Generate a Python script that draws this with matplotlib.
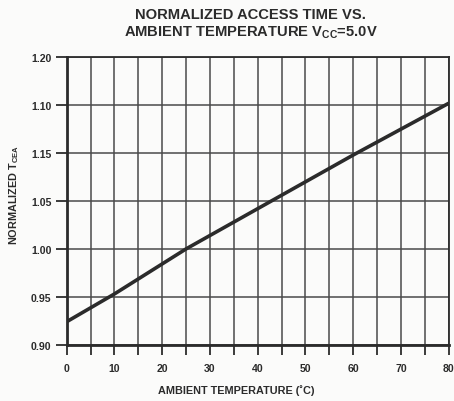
import numpy as np
import matplotlib
matplotlib.use('Agg')
import matplotlib.pyplot as plt

plt.rcParams['font.family'] = ['Liberation Sans', 'DejaVu Sans']
plt.rcParams['font.weight'] = 'bold'
plt.rcParams['mathtext.fontset'] = 'custom'
plt.rcParams['mathtext.bf'] = 'Liberation Sans:bold'
plt.rcParams['mathtext.rm'] = 'Liberation Sans:bold'
plt.rcParams['mathtext.default'] = 'bf'

# curve (y in grid position units, 0.90 .. 1.20)
temp = [0, 10, 25, 40, 45, 60, 80]
tcea = [0.924, 0.953, 1.000, 1.042, 1.056, 1.098, 1.152]

# tick labels exactly as printed on the original (bottom to top)
y_ticks = [0.90, 0.95, 1.00, 1.05, 1.10, 1.15, 1.20]
y_labels = ['0.90', '0.95', '1.00', '1.05', '1.15', '1.10', '1.20']
x_ticks = [0, 10, 20, 30, 40, 50, 60, 70, 80]

ink = '#2b2b2b'
fig = plt.figure(figsize=(4.54, 4.02), dpi=100, facecolor='#fbfbfa')
ax = fig.add_axes([0.1469, 0.140, 0.8414, 0.715])
ax.set_facecolor('#fbfbfa')

ax.plot(temp, tcea, color=ink, lw=2.6, solid_capstyle='butt',
        solid_joinstyle='round', zorder=3)

ax.set_xlim(0, 80)
ax.set_ylim(0.90, 1.20)
ax.set_xticks(x_ticks)
ax.set_xticks(np.arange(0, 81, 5), minor=True)
ax.set_yticks(y_ticks)
ax.set_yticklabels(y_labels)

ax.grid(which='both', axis='x', color='#4a4a4a', lw=1.1)
ax.grid(which='major', axis='y', color='#4a4a4a', lw=1.1)
ax.set_axisbelow(True)

for s in ax.spines.values():
    s.set_color(ink)
    s.set_linewidth(1.3)
ax.spines['left'].set_linewidth(2.0)
ax.spines['bottom'].set_linewidth(2.0)

ax.tick_params(axis='y', direction='out', length=8, width=1.3, color=ink,
               labelsize=7.6, pad=3, labelcolor=ink)
ax.tick_params(axis='x', which='both', direction='out', length=7, width=1.3,
               color=ink, labelsize=7.6, pad=6, labelcolor=ink)

fig.text(250/454, 1 - 15/402, 'NORMALIZED ACCESS TIME VS.', ha='center',
         va='center', fontsize=10.6, fontweight='bold', color=ink)
fig.text(251/454, 1 - 33/402, 'AMBIENT TEMPERATURE V$_{CC}$=5.0V', ha='center',
         va='center', fontsize=10.6, fontweight='bold', color=ink)
fig.text(236/454, 1 - 391/402, 'AMBIENT TEMPERATURE (\u02daC)', ha='center',
         va='center', fontsize=7.8, fontweight='bold', color=ink)
fig.text(14/454, 1 - 195/402, 'NORMALIZED T$_{CEA}$', ha='center', va='center',
         rotation=90, fontsize=7.8, fontweight='bold', color=ink)

plt.savefig('out.png', dpi=100, facecolor=fig.get_facecolor())
